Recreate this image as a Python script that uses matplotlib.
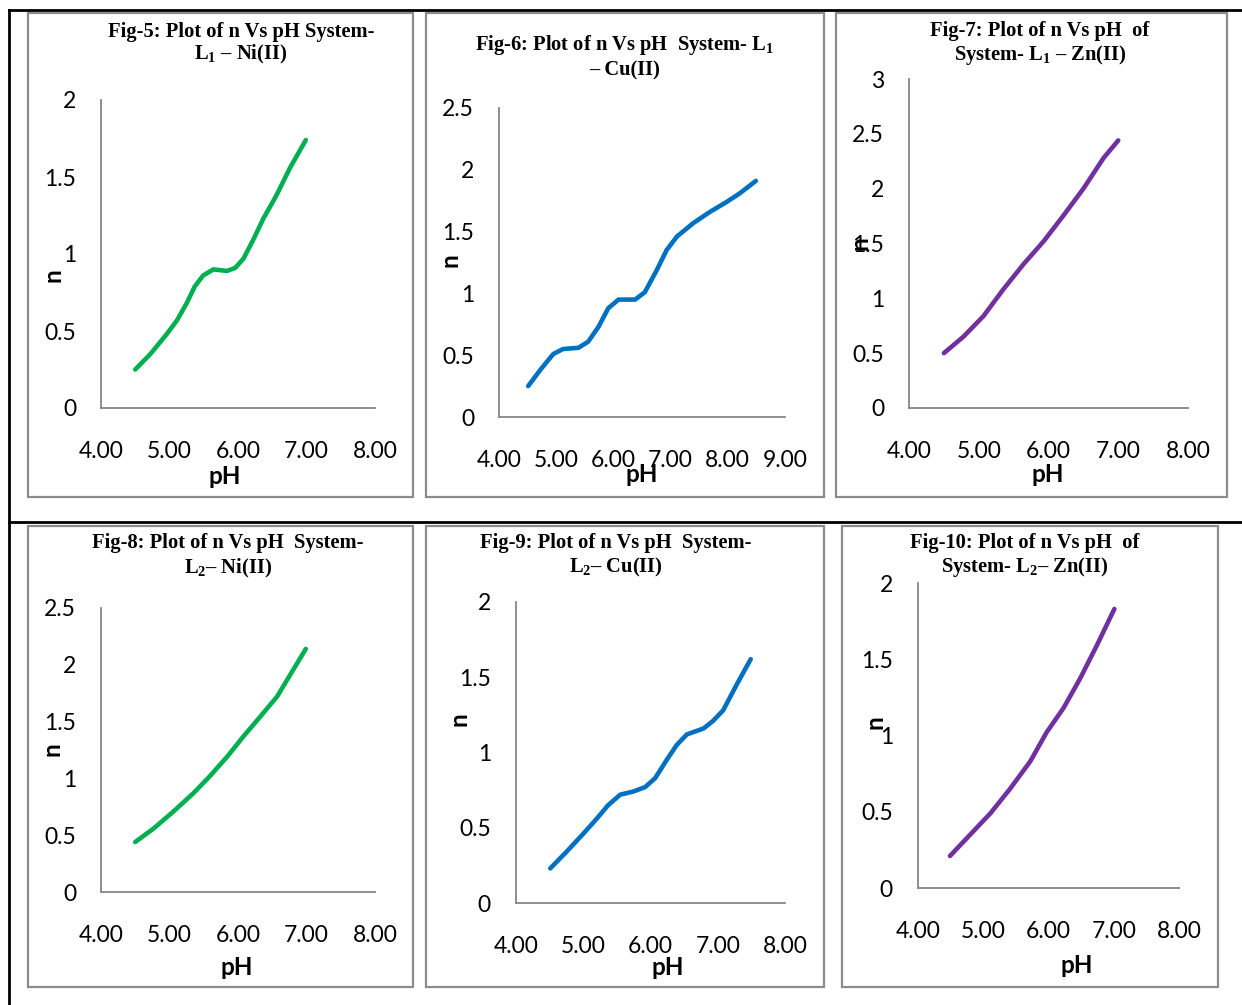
import matplotlib
matplotlib.use('Agg')
import matplotlib.pyplot as plt
from matplotlib.patches import Rectangle
from matplotlib.lines import Line2D

plt.rcParams['mathtext.fontset'] = 'custom'
plt.rcParams['mathtext.rm'] = 'Liberation Serif:bold'
plt.rcParams['mathtext.it'] = 'Liberation Serif:bold'
plt.rcParams['mathtext.bf'] = 'Liberation Serif:bold'

# data
ph_5 = [4.50, 4.72, 4.96, 5.11, 5.25, 5.37, 5.49, 5.64, 5.84, 5.96, 6.08, 6.22, 6.37, 6.56, 6.76, 6.99]
n_5 = [0.25, 0.35, 0.48, 0.57, 0.68, 0.79, 0.86, 0.90, 0.89, 0.91, 0.97, 1.09, 1.23, 1.38, 1.56, 1.74]

ph_6 = [4.51, 4.72, 4.95, 5.12, 5.39, 5.56, 5.74, 5.91, 6.09, 6.38, 6.55, 6.76, 6.93, 7.11, 7.40,
        7.69, 7.98, 8.21, 8.49]
n_6 = [0.25, 0.38, 0.51, 0.55, 0.56, 0.61, 0.73, 0.88, 0.95, 0.95, 1.01, 1.19, 1.35, 1.46, 1.57,
       1.66, 1.74, 1.81, 1.91]

ph_7 = [4.50, 4.78, 5.07, 5.35, 5.64, 5.93, 6.22, 6.50, 6.79, 7.00]
n_7 = [0.50, 0.65, 0.84, 1.08, 1.31, 1.52, 1.76, 2.00, 2.28, 2.44]

ph_8 = [4.50, 4.77, 5.06, 5.35, 5.59, 5.84, 6.08, 6.32, 6.57, 6.76, 6.99]
n_8 = [0.44, 0.56, 0.71, 0.87, 1.02, 1.19, 1.37, 1.54, 1.72, 1.91, 2.14]

ph_9 = [4.51, 4.75, 5.00, 5.20, 5.37, 5.55, 5.74, 5.92, 6.07, 6.24, 6.39, 6.54, 6.79, 6.93, 7.08,
        7.28, 7.49]
n_9 = [0.23, 0.34, 0.46, 0.56, 0.65, 0.72, 0.74, 0.77, 0.83, 0.95, 1.05, 1.12, 1.16, 1.21, 1.28,
       1.45, 1.62]

ph_10 = [4.49, 4.80, 5.11, 5.41, 5.72, 5.97, 6.23, 6.48, 6.74, 7.01]
n_10 = [0.21, 0.35, 0.49, 0.65, 0.83, 1.02, 1.18, 1.37, 1.59, 1.83]

titles = [
    ["Fig-5: Plot of n Vs pH System-", "L$_1$ – Ni(II)"],
    ["Fig-6: Plot of n Vs pH  System- L$_1$", "– Cu(II)"],
    ["Fig-7: Plot of n Vs pH  of", "System- L$_1$ – Zn(II)"],
    ["Fig-8: Plot of n Vs pH  System-", "L$_2$– Ni(II)"],
    ["Fig-9: Plot of n Vs pH  System-", "L$_2$– Cu(II)"],
    ["Fig-10: Plot of n Vs pH  of", "System- L$_2$– Zn(II)"],
]
ph_ticks = [[4, 5, 6, 7, 8], [4, 5, 6, 7, 8, 9], [4, 5, 6, 7, 8],
            [4, 5, 6, 7, 8], [4, 5, 6, 7, 8], [4, 5, 6, 7, 8]]
n_max = [2, 2.5, 3, 2.5, 2, 2]

series = [(ph_5, n_5), (ph_6, n_6), (ph_7, n_7), (ph_8, n_8), (ph_9, n_9), (ph_10, n_10)]
colors = ['#00B050', '#0070C0', '#7030A0', '#00B050', '#0070C0', '#7030A0']

# layout in pixels: axes (left, right, top, bottom), frame, title line centres, label centres
W, H = 1242, 1005
axes_px = [(101, 375, 100, 408), (499, 785, 108, 417), (909, 1188, 79, 408),
           (101, 375, 608, 892), (516, 785, 602, 903), (918, 1179, 583, 888)]
frames_px = [(28, 13, 413, 497), (426, 13, 824, 497), (836, 13, 1227, 497),
             (28, 526, 413, 987), (426, 526, 824, 987), (842, 526, 1218, 987)]
title_px = [(241, 32, 54), (625, 45, 70), (1040, 31, 55),
            (228, 543, 568), (616, 543, 567), (1025, 543, 567)]
xlabel_px = [(225, 477), (642, 475), (1048, 475), (237, 967), (668, 967), (1077, 965)]
ylabel_px = [(53, 275), (450, 260), (860, 243), (52, 749), (459, 719), (875, 722)]

fig = plt.figure(figsize=(W / 100, H / 100), dpi=100)

# table lines
fig.add_artist(Line2D([9 / W, 1], [1 - 10 / H, 1 - 10 / H], color='black', lw=2))
fig.add_artist(Line2D([9 / W, 1], [1 - 522 / H, 1 - 522 / H], color='black', lw=2))
fig.add_artist(Line2D([9 / W, 9 / W], [0, 1 - 10 / H], color='black', lw=2))

for i in range(6):
    fl, ft, fr, fb = frames_px[i]
    fig.add_artist(Rectangle((fl / W, 1 - fb / H), (fr - fl) / W, (fb - ft) / H,
                             fill=False, edgecolor='#8c8c8c', lw=1.6))

    l, r, t, b = axes_px[i]
    ax = fig.add_axes([l / W, 1 - b / H, (r - l) / W, (b - t) / H])
    ph, n = series[i]
    ax.plot(ph, n, color=colors[i], lw=3.3, solid_capstyle='round', solid_joinstyle='round')
    ax.set_xlim(ph_ticks[i][0], ph_ticks[i][-1])
    ax.set_ylim(0, n_max[i])
    ax.set_xticks(ph_ticks[i])
    ax.set_xticklabels([f'{v:.2f}' for v in ph_ticks[i]])
    yt = [k * 0.5 for k in range(int(n_max[i] / 0.5) + 1)]
    ax.set_yticks(yt)
    ax.set_yticklabels([f'{v:g}' for v in yt])
    for s in ['top', 'right']:
        ax.spines[s].set_visible(False)
    for s in ['left', 'bottom']:
        ax.spines[s].set_color('#868686')
        ax.spines[s].set_linewidth(1.3)
    ax.tick_params(axis='x', length=0, pad=23.5, labelsize=16.5)
    ax.tick_params(axis='y', length=0, pad=18, labelsize=16.5)
    for lab in ax.get_xticklabels() + ax.get_yticklabels():
        lab.set_fontfamily('Lato')
        lab.set_color('black')

    ax.set_xlabel('pH', fontfamily='Lato', fontweight='bold', fontsize=17.5)
    ax.xaxis.label.set_verticalalignment('center')
    xx, xy = xlabel_px[i]
    ax.xaxis.set_label_coords((xx - l) / (r - l), (b - xy) / (b - t))
    ax.set_ylabel('n', fontfamily='Lato', fontweight='bold', fontsize=17.5)
    ax.yaxis.label.set_verticalalignment('center')
    yx, yy = ylabel_px[i]
    ax.yaxis.set_label_coords((yx - l) / (r - l), (b - yy) / (b - t))

    tx, ty1, ty2 = title_px[i]
    for line, ty in zip(titles[i], [ty1, ty2]):
        fig.text(tx / W, 1 - ty / H, line, ha='center', va='center',
                 fontfamily='Liberation Serif', fontweight='bold', fontsize=14.8)

fig.savefig('out.png', dpi=100)
